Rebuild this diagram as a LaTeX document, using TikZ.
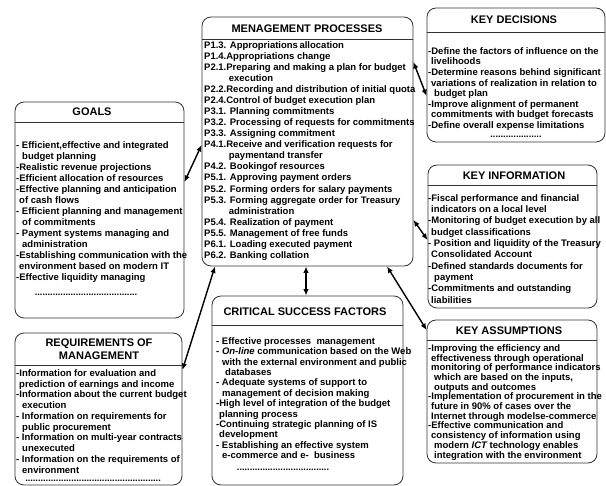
\documentclass[tikz,border=0pt]{standalone}
\usepackage{fontspec}
\setmainfont{Liberation Sans}
\usetikzlibrary{arrows.meta, positioning}
\newcommand{\ind}{\hspace*{3pt}}

\begin{document}
\begin{tikzpicture}[
  x=1pt, y=-1pt,
  frame/.style={draw=black!80, line width=0.8pt, rounded corners=9pt, inner sep=0pt},
  head/.style={font=\fontsize{11}{12.5}\selectfont\bfseries, align=center, inner sep=0pt},
  body/.style={font=\fontsize{9.5}{#1}\selectfont\bfseries, align=left, inner sep=0pt, anchor=north west},
  body/.default=11,
  dots/.style={font=\fontsize{9.2}{11}\selectfont\bfseries, inner sep=0pt},
  sep/.style={draw=black!80, line width=0.8pt},
  arr/.style={{Latex[length=6.5pt,width=5.5pt]}-{Latex[length=6.5pt,width=5.5pt]}, line width=1.4pt},
]
  \useasboundingbox (0,0) rectangle (606,486);

  % frames
  \node[frame, minimum width=211pt, minimum height=249pt] (mgmt) at (307.5,141.5) {};
  \node[frame, minimum width=178pt, minimum height=134pt] (decisions) at (516,75) {};
  \node[frame, minimum width=169pt, minimum height=143pt] (info) at (512.5,236.5) {};
  \node[frame, minimum width=170pt, minimum height=143pt] (assump) at (512,391.5) {};
  \node[frame, minimum width=169pt, minimum height=216pt] (goals) at (99.5,210) {};
  \node[frame, minimum width=167pt, minimum height=152pt] (req) at (98.5,409) {};
  \node[frame, minimum width=191pt, minimum height=189pt] (csf) at (307.5,390.5) {};

  % header rules
  \draw[sep] (mgmt.west |- 0,39) -- (mgmt.east |- 0,39);
  \draw[sep] (decisions.west |- 0,32) -- (decisions.east |- 0,32);
  \draw[sep] (info.west |- 0,185) -- (info.east |- 0,185);
  \draw[sep] (assump.west |- 0,340) -- (assump.east |- 0,340);
  \draw[sep] (goals.west |- 0,122) -- (goals.east |- 0,122);
  \draw[sep] (req.west |- 0,365) -- (req.east |- 0,365);
  \draw[sep] (csf.west |- 0,325) -- (csf.east |- 0,325);

  % titles
  \node[head] (mgmttitle) at (307,29) {MENAGEMENT PROCESSES};
  \node[head] (decisionstitle) at (514,20) {KEY DECISIONS};
  \node[head] (infotitle) at (514,176) {KEY INFORMATION};
  \node[head] (assumptitle) at (509,331) {KEY ASSUMPTIONS};
  \node[head] (goalstitle) at (92,112) {GOALS};
  \node[head] (reqtitle) at (99,349) {REQUIREMENTS OF\\MANAGEMENT};
  \node[head] (csftitle) at (305,312) {CRITICAL SUCCESS FACTORS};

  % texts
  \node[body=11.05] (mgmttext) at (204,41.3) {P1.3. Appropriations\,allocation\\
    P1.4.Appropriations change\\
    P2.1.Preparing and making a plan for budget\\
    \hspace*{2.6em}execution\\
    P2.2.Recording and distribution of initial quota\\
    P2.4.Control of budget execution plan\\
    P3.1. Planning commitments\\
    P3.2. Processing of requests for commitments\\
    P3.3. Assigning commitment\\
    P4.1.Receive and verification requests for\\
    \hspace*{2.6em}paymentand transfer\\
    P4.2. Bookingof resources\\
    P5.1. Approving payment orders\\
    P5.2. Forming orders for salary payments\\
    P5.3. Forming aggregate order for Treasury\\
    \hspace*{2.6em}administration\\
    P5.4. Realization of payment\\
    P5.5. Management of free funds\\
    P6.1. Loading executed payment\\
    P6.2. Banking collation};

  \node[body=10.6] (decisionstext) at (428,47.3) {-Define the factors of influence on the\\
    \ind livelihoods\\
    -Determine reasons behind significant\\
    \ind variations of realization in relation to\\
    \ind\ind budget plan\\
    -Improve alignment of permanent\\
    \ind commitments with budget forecasts\\
    -Define overall expense limitations};
  \node[dots] (decisionsdots) at (516,137) {....................};

  \node[body=11.3] (infotext) at (428,194.3) {-Fiscal performance and financial\\
    \ind indicators on a local level\\
    -Monitoring of budget execution by all\\
    \ind budget classifications\\
    - Position and liquidity of the Treasury\\
    \ind Consolidated Account\\
    -Defined standards documents for\\
    \ind\ind payment\\
    -Commitments and outstanding\\
    \ind liabilities};

  \node[body=9.7] (assumptext) at (428,344.3) {-Improving the efficiency and\\
    \ind effectiveness through operational\\
    \ind monitoring of performance indicators\\
    \ind\ind which are based on the inputs,\\
    \ind\ind outputs and outcomes\\
    -Implementation of procurement in the\\
    \ind future in 90\% of cases over the\\
    \ind Internet through modelse-commerce\\
    -Effective communication and\\
    \ind consistency of information using\\
    \ind\ind modern {\itshape ICT} technology enables\\
    \ind\ind integration with the environment};

  \node[body=11] (goalstext) at (16,141.3) {- Efficient,effective and integrated\\
    \ind\ind budget planning\\
    -Realistic revenue projections\\
    -Efficient allocation of resources\\
    -Effective planning and anticipation\\
    \ind of cash flows\\
    - Efficient planning and management\\
    \ind\ind of commitments\\
    - Payment systems managing and\\
    \ind\ind administration\\
    -Establishing communication with the\\
    \ind environment based on modern IT\\
    -Effective liquidity managing};
  \node[dots] (goalsdots) at (86,295) {........................................};

  \node[body=10.75] (reqtext) at (16,369.3) {-Information for evaluation and\\
    \ind prediction of earnings and income\\
    -Information about the current budget\\
    \ind\ind execution\\
    - Information on requirements for\\
    \ind\ind public procurement\\
    - Information on multi-year contracts\\
    \ind\ind unexecuted\\
    - Information on the requirements of\\
    \ind\ind environment};
  \node[dots] (reqdots) at (93,481) {.....................................................};

  \node[body=10.4] (csftext) at (216,337.3) {- Effective processes\ \ management\\
    - {\itshape On-line} communication based on the Web\\
    \ind\ind with the external environment and public\\
    \ind\ind\ind databases\\
    - Adequate systems of support to\\
    \ind\ind management of decision making\\
    -High level of integration of the budget\\
    \ind planning process\\
    -Continuing strategic planning of IS\\
    \ind development\\
    - Establishing an effective system\\
    \ind\ind e-commerce and e-\ \ business};
  \node[dots] (csfdots) at (283,470) {....................................};

  % connectors
  \draw[arr] (goals.east |- 0,182) -- (mgmt.west |- 0,145);
  \draw[arr] (req.east |- 0,370) -- (mgmt.south -| 215,0);
  \draw[arr] (mgmt.south -| 306,0) -- (csf.north -| 306,0);
  \draw[arr] (mgmt.south -| 387,0) -- (assump.west |- 0,330);
  \draw[arr] (mgmt.east |- 0,62) -- (decisions.west |- 0,96);
  \draw[arr] (mgmt.east |- 0,220) -- (info.west |- 0,240);
\end{tikzpicture}
\end{document}
